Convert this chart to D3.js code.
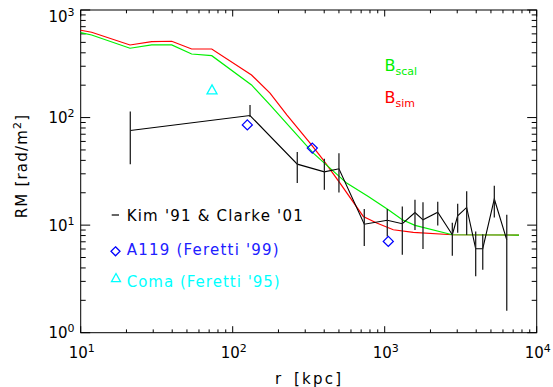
<!DOCTYPE html>
<html>
<head>
  <style>
    body { margin: 0; background: #fff; }
    text { font-family: "DejaVu Sans", sans-serif; }
  </style>
</head>
<body>
  <script src="https://d3js.org/d3.v7.min.js"></script>
  <script>
    // Kim '91 & Clarke '01 binned RM profile with asymmetric error bars
    var kimR = [21.2, 130, 266, 401, 500, 734, 1040, 1306, 1582, 1786, 2233, 2786, 3020, 3461, 3968, 4416, 5263, 6353];
    var kimRM = [75.7, 104.4, 36.9, 31.3, 33.4, 10.2, 11.1, 10.3, 13.1, 11.2, 13.2, 8.15, 12.2, 14.6, 6.04, 6.04, 17.5, 7.3];
    var kimErrUp = [38.1, 26.6, 10.9, 10.1, 13.3, 3.9, 3.0, 4.6, 4.1, 5.1, 3.3, 2.35, 3.6, 6.0, 2.7, 2.2, 5.7, 5.2];
    var kimErrDown = [38.8, 3, 12.3, 10, 13.3, 3.8, 3.25, 5.0, 4.1, 5.2, 3.3, 2.95, 3.7, 6.5, 2.7, 2.2, 5.7, 5.7];

    // simulated profiles
    var simR = [10, 11.8, 21.1, 29.3, 39.7, 53.7, 72.8, 133, 176, 227, 323, 394, 508, 723, 886, 1139, 1542, 2784, 7648];
    var simRM = [648, 621, 473, 508, 512, 434, 434, 249, 168.5, 106, 57.9, 40.5, 24.6, 12.04, 10.46, 9.06, 8.55, 8.14, 8.09];
    var scalR = [10, 11.8, 21.1, 29.3, 39.7, 53.7, 72.8, 133, 176, 339, 562, 780, 1056, 1306, 1582, 2784, 7648];
    var scalRM = [615, 586, 441, 473, 473, 390, 376, 201, 131, 46.7, 24.6, 18.5, 13.9, 11.2, 9.94, 8.14, 8.09];

    // A119 (Feretti '99) and Coma (Feretti '95)
    var a119R = [124.8, 334, 1056];
    var a119RM = [85.5, 52.0, 7.06];
    var comaR = [73.1];
    var comaRM = [180.8];

    var xExp = [1, 2, 3, 4];
    var yExp = [0, 1, 2, 3];

    var W = 553, H = 387;
    var plotL = 80.7, plotR = 536.7, plotT = 10, plotB = 332.7;

    var svg = d3.select("body").append("svg")
      .attr("width", W).attr("height", H);

    var x = d3.scaleLog().domain([10, 1e4]).range([plotL, plotR]);
    var y = d3.scaleLog().domain([1, 1000]).range([plotB, plotT]);

    // frame
    svg.append("rect")
      .attr("x", plotL).attr("y", plotT)
      .attr("width", plotR - plotL).attr("height", plotB - plotT)
      .attr("fill", "none").attr("stroke", "#000").attr("stroke-width", 1);

    // ticks (all four sides, pointing inward)
    var xt = x.ticks();
    var yt = y.ticks();
    function isMajor(v) { return Math.abs(Math.log10(v) - Math.round(Math.log10(v))) < 1e-6; }
    var axes = svg.append("g").attr("stroke", "#000").attr("stroke-width", 1);
    xt.forEach(function (v) {
      var len = isMajor(v) ? 6.5 : 3.3;
      var px = x(v);
      axes.append("line").attr("x1", px).attr("x2", px).attr("y1", plotB).attr("y2", plotB - len);
      axes.append("line").attr("x1", px).attr("x2", px).attr("y1", plotT).attr("y2", plotT + len);
    });
    yt.forEach(function (v) {
      var len = isMajor(v) ? 9.5 : 5;
      var py = y(v);
      axes.append("line").attr("x1", plotL).attr("x2", plotL + len).attr("y1", py).attr("y2", py);
      axes.append("line").attr("x1", plotR).attr("x2", plotR - len).attr("y1", py).attr("y2", py);
    });

    // tick labels 10^n
    function powLabel(g, px, py, n, anchor) {
      var t = g.append("text").attr("x", px).attr("y", py)
        .attr("text-anchor", anchor).attr("font-size", 15).attr("fill", "#000");
      t.append("tspan").text("10");
      t.append("tspan").attr("dy", -6).attr("font-size", 11).text(n);
      return t;
    }
    var labels = svg.append("g");
    xExp.forEach(function (n) {
      powLabel(labels, x(Math.pow(10, n)) + 1, 358.3, n, "middle");
    });
    yExp.forEach(function (n) {
      var py = y(Math.pow(10, n)) + 5.5;
      if (n === 3) py = 21.5;
      powLabel(labels, 74.5, py, n, "end");
    });

    // axis titles
    svg.append("text").attr("x", 275).attr("y", 384)
      .attr("font-size", 15).text("r");
    svg.append("text").attr("x", 294).attr("y", 384)
      .attr("font-size", 15)
      .attr("textLength", 47).attr("lengthAdjust", "spacing")
      .text("[kpc]");
    var yt2 = svg.append("text")
      .attr("transform", "translate(27,166) rotate(-90)")
      .attr("text-anchor", "middle").attr("font-size", 15)
      .attr("letter-spacing", 1.2);
    yt2.append("tspan").text("RM  [rad/m");
    yt2.append("tspan").attr("dy", -6).attr("font-size", 11).text("2");
    yt2.append("tspan").attr("dy", 6).text("]");

    var line = d3.line()
      .x(function (d) { return x(d[0]); })
      .y(function (d) { return y(d[1]); });

    svg.append("path")
      .datum(d3.zip(simR, simRM))
      .attr("d", line).attr("fill", "none")
      .attr("stroke", "#ff0000").attr("stroke-width", 1.2);
    svg.append("path")
      .datum(d3.zip(scalR, scalRM))
      .attr("d", line).attr("fill", "none")
      .attr("stroke", "#00f000").attr("stroke-width", 1.2);

    // Kim & Clarke line + error bars
    svg.append("path")
      .datum(d3.zip(kimR, kimRM))
      .attr("d", line).attr("fill", "none")
      .attr("stroke", "#000").attr("stroke-width", 1.1);
    svg.append("g").selectAll("line")
      .data(kimR)
      .enter().append("line")
      .attr("x1", function (d) { return x(d); })
      .attr("x2", function (d) { return x(d); })
      .attr("y1", function (d, i) { return y(kimRM[i] + kimErrUp[i]); })
      .attr("y2", function (d, i) { return y(Math.max(kimRM[i] - kimErrDown[i], 1)); })
      .attr("stroke", "#222").attr("stroke-width", 1.3);

    // A119 diamonds, Coma triangle
    function diamond(cx, cy, s) {
      return "M" + cx + "," + (cy - s) + "L" + (cx + s) + "," + cy +
        "L" + cx + "," + (cy + s) + "L" + (cx - s) + "," + cy + "Z";
    }
    function triangle(cx, cy, s) {
      return "M" + cx + "," + (cy - s) + "L" + (cx + s) + "," + (cy + s * 0.8) +
        "L" + (cx - s) + "," + (cy + s * 0.8) + "Z";
    }
    svg.append("g").selectAll("path")
      .data(a119R)
      .enter().append("path")
      .attr("d", function (d, i) { return diamond(x(d), y(a119RM[i]), 5); })
      .attr("fill", "none").attr("stroke", "#0000ff").attr("stroke-width", 1.3);
    svg.append("g").selectAll("path")
      .data(comaR)
      .enter().append("path")
      .attr("d", function (d, i) { return triangle(x(d), y(comaRM[i]), 5); })
      .attr("fill", "none").attr("stroke", "#00ffff").attr("stroke-width", 1.3);

    // B labels
    function bLabel(px, py, sub, color) {
      var t = svg.append("text").attr("x", px).attr("y", py)
        .attr("font-size", 16).attr("fill", color);
      t.append("tspan").text("B");
      t.append("tspan").attr("dy", 4).attr("font-size", 11).text(sub);
    }
    bLabel(384.5, 71, "scal", "#00f000");
    bLabel(384.5, 103, "sim", "#ff0000");

    // legend
    var lg = svg.append("g");
    lg.append("line").attr("x1", 111.7).attr("x2", 119).attr("y1", 215).attr("y2", 215)
      .attr("stroke", "#000").attr("stroke-width", 1.2);
    lg.append("text").attr("x", 126.7).attr("y", 220.7).attr("font-size", 15)
      .attr("textLength", 176).attr("lengthAdjust", "spacing")
      .text("Kim '91 & Clarke '01");
    lg.append("path").attr("d", diamond(115.5, 251.3, 4.5))
      .attr("fill", "none").attr("stroke", "#0000ff").attr("stroke-width", 1.3);
    lg.append("text").attr("x", 126.7).attr("y", 254.5).attr("font-size", 15)
      .attr("fill", "#2020ff")
      .attr("textLength", 152).attr("lengthAdjust", "spacing")
      .text("A119 (Feretti '99)");
    lg.append("path").attr("d", triangle(116, 278, 4.5))
      .attr("fill", "none").attr("stroke", "#00ffff").attr("stroke-width", 1.3);
    lg.append("text").attr("x", 126.7).attr("y", 286.5).attr("font-size", 15)
      .attr("fill", "#00ffff")
      .attr("textLength", 153).attr("lengthAdjust", "spacing")
      .text("Coma (Feretti '95)");
  </script>
</body>
</html>
